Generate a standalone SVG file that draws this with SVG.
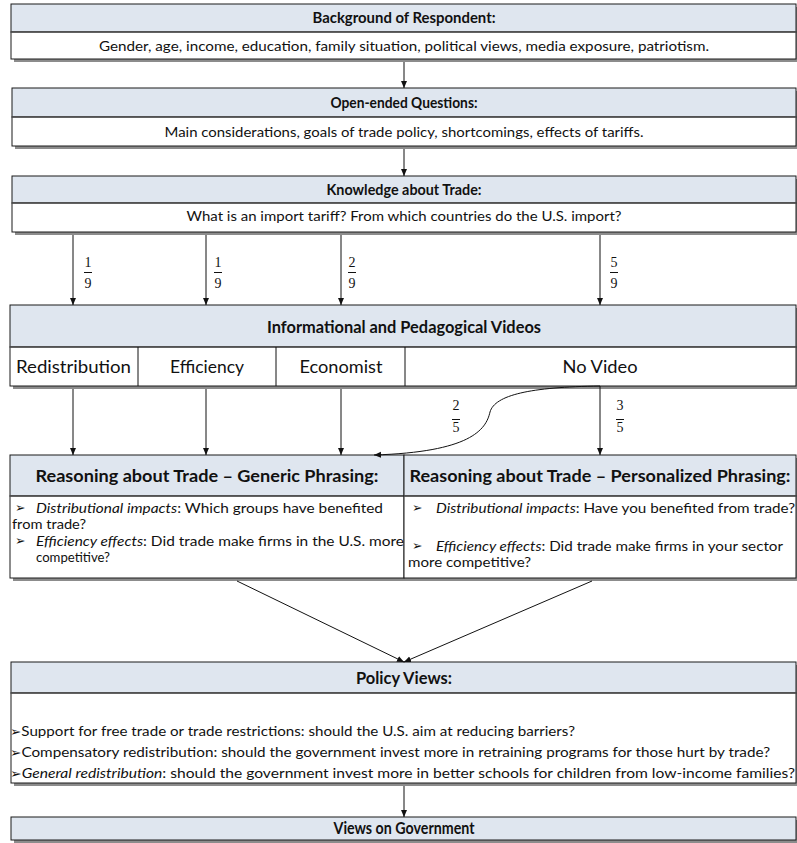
<svg xmlns="http://www.w3.org/2000/svg" width="797" height="843" viewBox="0 0 797 843">
<style>
.sh{fill:#8c8c8c}
.hd{fill:#dfe6ef;stroke:#1a1a1a;stroke-width:1}
.bd{fill:#ffffff;stroke:#1a1a1a;stroke-width:1}
.sep{stroke:#555;stroke-width:1.5}
.ht{font-family:Lato,"Open Sans",sans-serif;font-weight:bold;font-size:16px;fill:#111;text-anchor:middle}
.hl{font-size:17.5px}
.bt{font-family:Lato,"Open Sans",sans-serif;font-size:14px;fill:#111}
.ct{font-family:Lato,"Open Sans",sans-serif;font-size:17px;fill:#111;text-anchor:middle}
.fr{font-family:"Liberation Serif","DejaVu Serif",serif;font-size:14px;fill:#111;text-anchor:middle}
.it{font-style:italic}
.ar{stroke:#111;stroke-width:1;fill:none}
.bul{font-family:"DejaVu Sans","Noto Sans",sans-serif;font-size:12.5px}
</style>
<defs>
<marker id="ah" markerWidth="8" markerHeight="8" refX="7" refY="4" orient="auto" markerUnits="userSpaceOnUse">
<path d="M0,1 L7,4 L0,7 z" fill="#111"/>
</marker>
</defs>

<g id="background">
<rect class="sh" x="14" y="7" width="785" height="55"/>
<rect class="hd" x="11" y="4" width="785" height="28"/>
<rect class="bd" x="11" y="32" width="785" height="27"/>
<line class="sep" x1="11" y1="32" x2="796" y2="32"/>
<text class="ht" x="404" y="23" textLength="183" lengthAdjust="spacingAndGlyphs">Background of Respondent:</text>
<text class="bt" x="404" y="51" text-anchor="middle" textLength="610" lengthAdjust="spacingAndGlyphs">Gender, age, income, education, family situation, political views, media exposure, patriotism.</text>
</g>

<g id="openended">
<rect class="sh" x="15" y="91" width="784" height="58"/>
<rect class="hd" x="12" y="88" width="784" height="29"/>
<rect class="bd" x="12" y="117" width="784" height="29"/>
<line class="sep" x1="12" y1="117" x2="796" y2="117"/>
<text class="ht" x="404" y="108" textLength="147" lengthAdjust="spacingAndGlyphs">Open-ended Questions:</text>
<text class="bt" x="404" y="137" text-anchor="middle" textLength="479" lengthAdjust="spacingAndGlyphs">Main considerations, goals of trade policy, shortcomings, effects of tariffs.</text>
</g>

<g id="knowledge">
<rect class="sh" x="15" y="179" width="784" height="56"/>
<rect class="hd" x="12" y="176" width="784" height="27"/>
<rect class="bd" x="12" y="203" width="784" height="29"/>
<line class="sep" x1="12" y1="203" x2="796" y2="203"/>
<text class="ht" x="404" y="195" textLength="155" lengthAdjust="spacingAndGlyphs">Knowledge about Trade:</text>
<text class="bt" x="404" y="221" text-anchor="middle" textLength="435" lengthAdjust="spacingAndGlyphs">What is an import tariff? From which countries do the U.S. import?</text>
</g>

<g id="videos">
<rect class="sh" x="13" y="308" width="786" height="81"/>
<rect class="hd" x="10" y="305" width="786" height="42"/>
<rect class="bd" x="10" y="347" width="786" height="39"/>
<line class="sep" x1="10" y1="347" x2="796" y2="347"/>
<line stroke="#111" x1="138" y1="347" x2="138" y2="386"/>
<line stroke="#111" x1="276" y1="347" x2="276" y2="386"/>
<line stroke="#111" x1="405" y1="347" x2="405" y2="386"/>
<text class="ht hl" x="404" y="333" textLength="274" lengthAdjust="spacingAndGlyphs">Informational and Pedagogical Videos</text>
<text class="ct" x="73.5" y="373" textLength="115" lengthAdjust="spacingAndGlyphs">Redistribution</text>
<text class="ct" x="207" y="373" textLength="74" lengthAdjust="spacingAndGlyphs">Efficiency</text>
<text class="ct" x="341" y="373" textLength="83" lengthAdjust="spacingAndGlyphs">Economist</text>
<text class="ct" x="600" y="373" textLength="75" lengthAdjust="spacingAndGlyphs">No Video</text>
</g>

<g id="reasoning-generic">
<rect class="sh" x="13" y="458" width="394" height="123"/>
<rect class="hd" x="10" y="455" width="394" height="41"/>
<rect class="bd" x="10" y="496" width="394" height="82"/>
<line class="sep" x1="10" y1="496" x2="404" y2="496"/>
<text class="ht hl" x="207" y="482" textLength="343" lengthAdjust="spacingAndGlyphs">Reasoning about Trade – Generic Phrasing:</text>
<text class="bt bul" x="15" y="512">➢</text>
<text class="bt" x="36" y="513" textLength="347" lengthAdjust="spacingAndGlyphs"><tspan class="it">Distributional impacts</tspan>: Which groups have benefited</text>
<text class="bt" x="12" y="529" textLength="74" lengthAdjust="spacingAndGlyphs">from trade?</text>
<text class="bt bul" x="15" y="545">➢</text>
<text class="bt" x="36" y="546" textLength="368" lengthAdjust="spacingAndGlyphs"><tspan class="it">Efficiency effects</tspan>: Did trade make firms in the U.S. more</text>
<text class="bt" x="36" y="562" textLength="74" lengthAdjust="spacingAndGlyphs">competitive?</text>
</g>

<g id="reasoning-personalized">
<rect class="sh" x="407" y="458" width="392" height="123"/>
<rect class="hd" x="404" y="455" width="392" height="41"/>
<rect class="bd" x="404" y="496" width="392" height="82"/>
<line class="sep" x1="404" y1="496" x2="796" y2="496"/>
<text class="ht hl" x="600" y="482" textLength="381" lengthAdjust="spacingAndGlyphs">Reasoning about Trade – Personalized Phrasing:</text>
<text class="bt bul" x="412" y="512">➢</text>
<text class="bt" x="436" y="513" textLength="359" lengthAdjust="spacingAndGlyphs"><tspan class="it">Distributional impacts</tspan>: Have you benefited from trade?</text>
<text class="bt bul" x="412" y="550">➢</text>
<text class="bt" x="436" y="551" textLength="347" lengthAdjust="spacingAndGlyphs"><tspan class="it">Efficiency effects</tspan>: Did trade make firms in your sector</text>
<text class="bt" x="408" y="567" textLength="123" lengthAdjust="spacingAndGlyphs">more competitive?</text>
</g>

<g id="policy">
<rect class="sh" x="14" y="665" width="785" height="121"/>
<rect class="hd" x="11" y="662" width="785" height="31"/>
<rect class="bd" x="11" y="693" width="785" height="90"/>
<line class="sep" x1="11" y1="693" x2="796" y2="693"/>
<text class="ht hl" x="404" y="684" textLength="96" lengthAdjust="spacingAndGlyphs">Policy Views:</text>
<text class="bt" x="10" y="736" textLength="565" lengthAdjust="spacingAndGlyphs"><tspan class="bul">➢</tspan>Support for free trade or trade restrictions: should the U.S. aim at reducing barriers?</text>
<text class="bt" x="10" y="757" textLength="760" lengthAdjust="spacingAndGlyphs"><tspan class="bul">➢</tspan>Compensatory redistribution: should the government invest more in retraining programs for those hurt by trade?</text>
<text class="bt" x="10" y="778" textLength="785" lengthAdjust="spacingAndGlyphs"><tspan class="bul">➢</tspan><tspan class="it">General redistribution</tspan>: should the government invest more in better schools for children from low-income families?</text>
</g>

<g id="government">
<rect class="sh" x="14" y="820" width="785" height="23"/>
<rect class="hd" x="11" y="817" width="785" height="23"/>
<text class="ht hl" x="404" y="834" textLength="141" lengthAdjust="spacingAndGlyphs">Views on Government</text>
</g>

<g id="connectors">
<line class="ar" x1="404" y1="62" x2="404" y2="88" marker-end="url(#ah)"/>
<line class="ar" x1="404" y1="149" x2="404" y2="176" marker-end="url(#ah)"/>
<line class="ar" x1="73" y1="235" x2="73" y2="305" marker-end="url(#ah)"/>
<line class="ar" x1="206" y1="235" x2="206" y2="305" marker-end="url(#ah)"/>
<line class="ar" x1="341" y1="235" x2="341" y2="305" marker-end="url(#ah)"/>
<line class="ar" x1="600" y1="235" x2="600" y2="305" marker-end="url(#ah)"/>
<line class="ar" x1="73" y1="389" x2="73" y2="455" marker-end="url(#ah)"/>
<line class="ar" x1="206" y1="389" x2="206" y2="455" marker-end="url(#ah)"/>
<line class="ar" x1="341" y1="389" x2="341" y2="455" marker-end="url(#ah)"/>
<line class="ar" x1="600" y1="386" x2="600" y2="455" marker-end="url(#ah)"/>
<path class="ar" d="M600,386 C530,387 495,395 490,412 C486,430 470,452 374,455" marker-end="url(#ah)"/>
<line class="ar" x1="237" y1="581" x2="404" y2="662" marker-end="url(#ah)"/>
<line class="ar" x1="592" y1="581" x2="404" y2="662" marker-end="url(#ah)"/>
<line class="ar" x1="404" y1="786" x2="404" y2="817" marker-end="url(#ah)"/>
</g>

<g id="fractions">
<text class="fr" x="88" y="267">1</text><line stroke="#111" x1="84" y1="272.5" x2="92" y2="272.5"/><text class="fr" x="88" y="288">9</text>
<text class="fr" x="218" y="267">1</text><line stroke="#111" x1="214" y1="272.5" x2="222" y2="272.5"/><text class="fr" x="218" y="288">9</text>
<text class="fr" x="352" y="267">2</text><line stroke="#111" x1="348" y1="272.5" x2="356" y2="272.5"/><text class="fr" x="352" y="288">9</text>
<text class="fr" x="614" y="267">5</text><line stroke="#111" x1="610" y1="272.5" x2="618" y2="272.5"/><text class="fr" x="614" y="288">9</text>
<text class="fr" x="456" y="410">2</text><line stroke="#111" x1="452" y1="419.5" x2="460" y2="419.5"/><text class="fr" x="456" y="432">5</text>
<text class="fr" x="620" y="410">3</text><line stroke="#111" x1="616" y1="419.5" x2="624" y2="419.5"/><text class="fr" x="620" y="432">5</text>
</g>
</svg>
